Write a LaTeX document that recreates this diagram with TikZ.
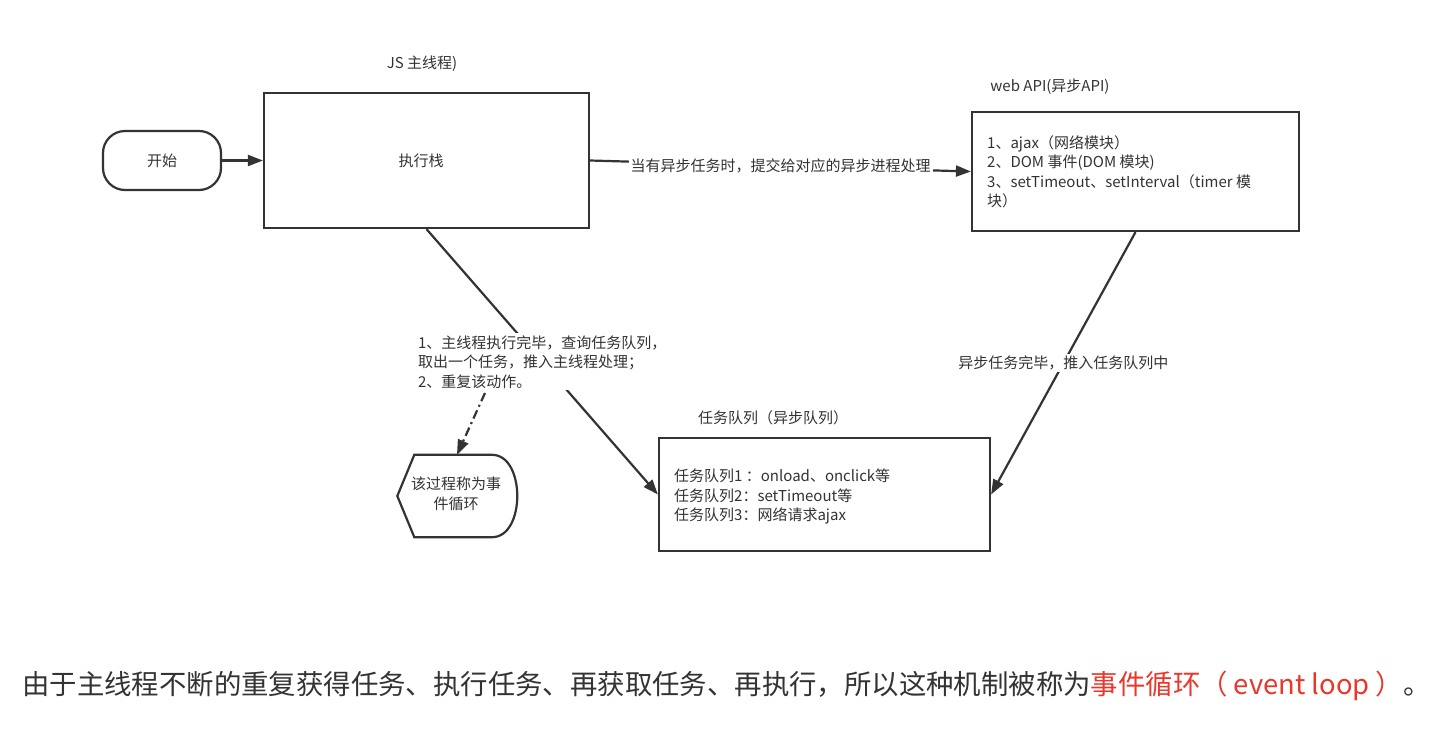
\documentclass[tikz,border=0pt]{standalone}
\usepackage{fontspec}
\setmainfont{Noto Sans CJK SC}
\usetikzlibrary{arrows.meta,calc}
\definecolor{ink}{HTML}{333333}
\definecolor{redtxt}{HTML}{E8382C}
\begin{document}
\begin{tikzpicture}[x=1pt,y=-1pt,
  box/.style={draw=ink, line width=2.2pt, rectangle, inner sep=0pt},
  txt/.style={text=ink, font=\fontsize{15}{19.5}\selectfont, inner sep=0pt},
  arr/.style={draw=ink, line width=2.2pt, -{Triangle[length=15pt,width=11pt]}},
  lbl/.style={txt, fill=white, inner sep=2pt}
]
\useasboundingbox[fill=white] (0,0) rectangle (1450,731);

% nodes
\node[box, txt, rounded corners=22pt, minimum width=118pt, minimum height=59pt] (start) at (162,160.5) {开始};
\node[box, minimum width=325pt, minimum height=135pt] (exec) at (426.5,160.5) {};
\node[txt] (exectxt) at (421,161) {执行栈};
\node[txt] (exectitle) at (422,64) {JS 主线程)};

\node[box, minimum width=327pt, minimum height=119pt] (web) at (1135.5,171.5) {};
\node[txt, anchor=west, align=left] (webtxt) at (987,172) {1、ajax（网络模块）\\2、DOM 事件(DOM 模块)\\3、setTimeout、setInterval（timer 模\\块）};
\node[txt] (webtitle) at (1050,87) {web API(异步API)};

\node[box, minimum width=331pt, minimum height=113pt] (queue) at (824.5,494.5) {};
\node[txt, anchor=west, align=left] (queuetxt) at (674,496.5) {任务队列1 ：onload、onclick等\\任务队列2：setTimeout等\\任务队列3：网络请求ajax};
\node[txt] (queuetitle) at (773,418) {任务队列（异步队列）};

% event loop display shape
\node[minimum width=119pt, minimum height=82pt, inner sep=0pt] (loop) at (457,496) {};
\draw[draw=ink, line width=2.2pt]
  (loop.west) -- ($(loop.north west)+(17,0)$) -- ($(loop.north)+(35,0)$)
  .. controls ($(loop.north east)+(9,0)$) and ($(loop.south east)+(9,0)$) .. ($(loop.south)+(35,0)$)
  -- ($(loop.south west)+(17,0)$) -- cycle;
\node[txt, align=center] (looptxt) at (456,494) {该过程称为事\\件循环};

% connectors
\draw[arr] (start.east) -- (exec.west);
\draw[arr] (exec.east) -- node[lbl, midway] (l1) {当有异步任务时，提交给对应的异步进程处理} (web.west);
\draw[arr] (web.south) -- node[lbl, midway] (l2) {异步任务完毕，推入任务队列中} (queue.east);
\draw[arr] (exec.south) -- node[lbl, midway, align=left] (l3) {1、主线程执行完毕，查询任务队列，\\取出一个任务，推入主线程处理；\\2、重复该动作。} (queue.west);
\coordinate (dstart) at (485,393);
\draw[arr, dash pattern=on 9pt off 4pt on 2pt off 4pt] (dstart) -- (loop.north);

% bottom note
\node[anchor=west, text=ink, inner sep=0pt, font=\fontsize{27.4}{33}\selectfont] (note) at (22,686)
  {由于主线程不断的重复获得任务、执行任务、再获取任务、再执行，所以这种机制被称为\textcolor{redtxt}{事件循环（ event loop ）}。};
\end{tikzpicture}
\end{document}
